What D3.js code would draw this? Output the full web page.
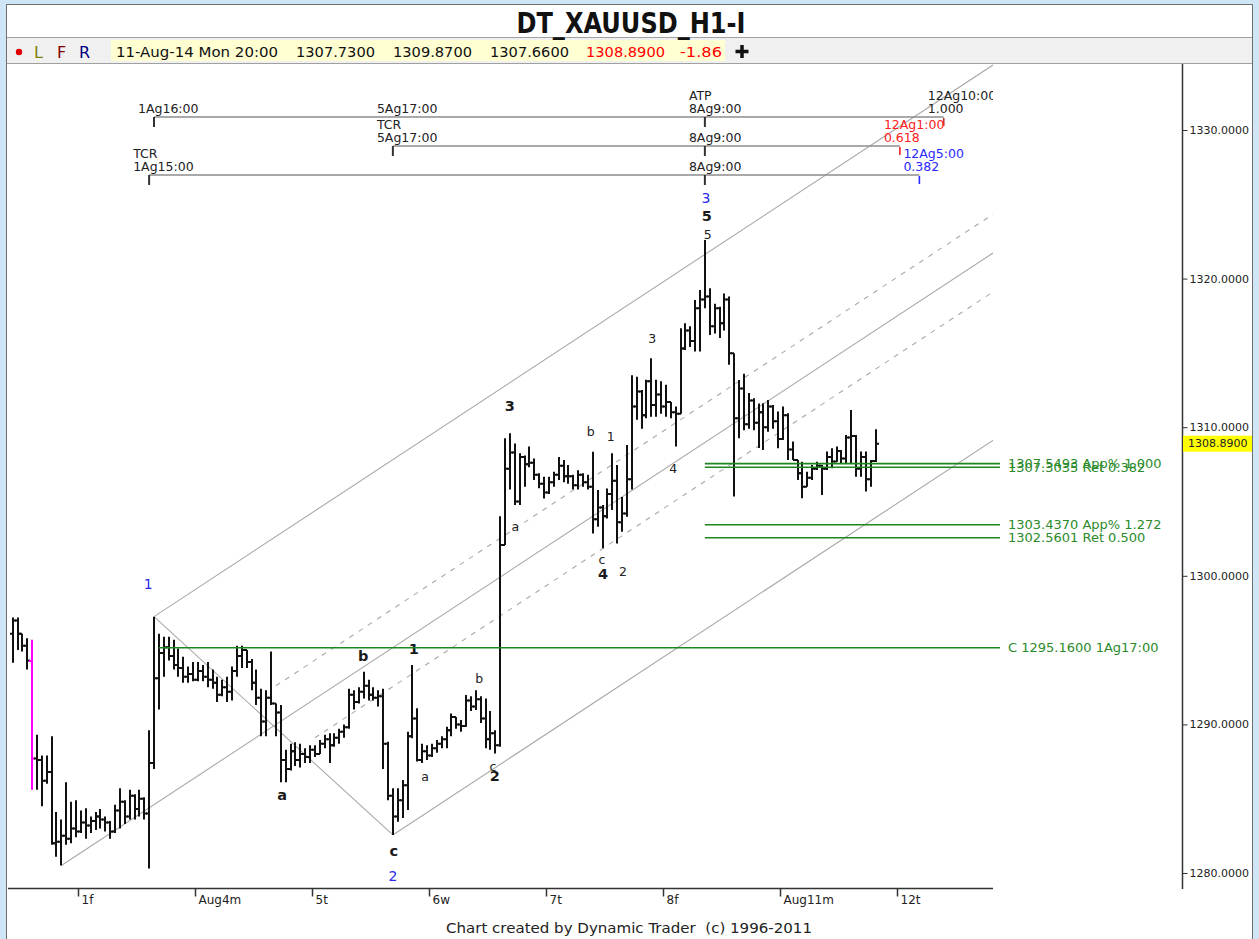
<!DOCTYPE html>
<html>
<head>
<meta charset="utf-8">
<script src="https://cdn.jsdelivr.net/npm/d3@7"></script>
<style>
body { margin: 0; background: #cfe6f6; }
svg { display: block; }
text { font-family: "DejaVu Sans", Verdana, sans-serif; }
</style>
</head>
<body>
<svg id="chart" width="1259" height="939"></svg>
<script>
// hourly bars, first bar = Jul 31 11:00, hour index 0 = Aug 1 00:00 (trading days only)
var startHour = -13;
var magentaHour = -9;

var opens = [
 1296.1,1297.0,1296.1,1295.3,1294.26,1287.7,1287.6,1286.2,1286.8,1282.0,
 1282.1,1282.5,1282.3,1283.0,1282.8,1283.4,1283.2,1283.5,1283.8,1283.6,
 1283.4,1282.8,1284.2,1284.8,1283.8,1285.2,1284.3,1285.0,1284.0,1287.4,
 1293.1,1294.8,1295.2,1294.6,1294.0,1293.8,1293.2,1293.4,1293.0,1293.6,
 1293.2,1293.0,1292.8,1292.0,1292.5,1292.2,1293.6,1294.6,1295.0,1294.2,
 1292.8,1291.8,1290.2,1291.8,1291.4,1290.8,1287.6,1287.0,1288.2,1287.6,
 1288.0,1287.8,1288.3,1288.0,1288.7,1289.0,1288.6,1289.1,1289.5,1289.8,
 1292.0,1291.5,1292.2,1292.6,1292.0,1291.8,1291.9,1288.7,1285.2,1283.8,
 1284.9,1285.9,1289.2,1290.4,1287.6,1288.2,1287.9,1288.4,1288.7,1289.0,
 1289.6,1290.5,1290.0,1289.9,1291.6,1291.2,1291.7,1290.4,1289.0,1289.4,
 1288.6,1302.07,1307.2,1308.3,1305.0,1308.0,1307.5,1307.6,1306.8,1306.2,
 1305.6,1306.3,1306.8,1307.4,1306.7,1306.7,1306.1,1306.8,1306.3,1306.0,
 1303.8,1304.6,1304.0,1305.5,1306.4,1303.6,1304.2,1306.5,1311.4,1312.4,
 1310.8,1313.1,1311.5,1312.2,1311.4,1311.7,1311.0,1310.9,1315.3,1316.5,
 1315.8,1318.0,1318.6,1318.8,1316.8,1318.0,1317.0,1318.6,1314.97,1310.6,
 1312.6,1310.2,1311.8,1310.3,1311.0,1310.0,1311.4,1310.4,1309.2,1310.8,
 1308.5,1307.8,1306.9,1306.0,1306.6,1307.2,1307.4,1307.2,1308.0,1307.7,
 1308.4,1307.9,1309.3,1309.4,1307.2,1308.0,1306.5,1307.73
];
var highs = [
 1297.2,1297.2,1296.1,1295.8,1295.7,1289.3,1287.9,1287.9,1289.2,1284.1,
 1283.6,1286.1,1284.8,1284.9,1284.2,1284.35,1283.8,1284.1,1284.3,1283.8,
 1283.5,1284.6,1285.7,1284.9,1285.6,1285.3,1285.6,1285.1,1289.6,1297.25,
 1296.1,1295.9,1295.9,1295.7,1295.1,1294.55,1293.9,1294.2,1294.2,1294.0,
 1294.2,1293.7,1293.2,1293.0,1293.2,1293.9,1295.3,1295.3,1295.0,1294.4,
 1293.7,1292.4,1292.3,1294.9,1291.4,1291.3,1288.3,1288.7,1288.8,1288.7,
 1288.4,1288.6,1288.6,1288.95,1289.3,1289.4,1289.4,1289.7,1290.0,1292.4,
 1292.3,1292.5,1293.55,1293.0,1292.5,1292.3,1292.4,1288.84,1285.7,1285.7,
 1286.26,1289.5,1294.0,1291.08,1288.7,1288.6,1288.7,1288.95,1289.2,1289.85,
 1290.74,1290.5,1290.3,1291.98,1291.9,1292.3,1291.9,1291.75,1290.9,1289.6,
 1304.0,1309.25,1309.6,1308.9,1308.24,1308.1,1308.7,1307.9,1306.9,1306.67,
 1306.67,1307.0,1308.0,1307.8,1307.45,1306.8,1307.1,1306.9,1306.8,1308.35,
 1305.77,1304.76,1305.88,1308.24,1307.45,1305.3,1308.8,1313.5,1313.4,1312.5,
 1313.2,1314.64,1313.2,1313.1,1312.85,1311.7,1311.4,1316.66,1317.0,1316.8,
 1318.56,1319.24,1322.6,1319.35,1318.3,1318.1,1319.0,1318.8,1314.97,1313.18,
 1313.6,1312.3,1311.95,1311.6,1311.61,1311.83,1311.5,1311.05,1311.4,1310.94,
 1309.03,1307.8,1307.68,1307.0,1307.46,1307.68,1307.46,1308.36,1308.58,1308.7,
 1308.47,1309.48,1311.16,1309.48,1308.36,1308.36,1307.8,1309.87
];
var lows = [
 1294.15,1295.0,1294.9,1293.7,1285.6,1285.6,1284.5,1286.0,1281.9,1281.1,
 1280.5,1281.9,1282.0,1282.4,1282.7,1282.3,1282.7,1282.9,1283.0,1282.8,
 1282.3,1282.7,1283.0,1283.3,1283.6,1283.6,1283.8,1283.6,1280.3,1287.0,
 1291.0,1293.2,1294.3,1293.7,1293.2,1292.8,1292.8,1292.9,1292.9,1292.9,
 1292.5,1292.4,1291.5,1291.9,1291.5,1291.6,1293.2,1293.8,1293.8,1292.3,
 1291.3,1289.2,1289.2,1291.3,1289.2,1286.1,1286.1,1286.9,1287.2,1287.1,
 1287.4,1287.4,1287.8,1288.0,1288.4,1287.4,1288.5,1288.7,1289.1,1289.7,
 1291.0,1291.4,1291.75,1291.6,1291.6,1291.2,1287.0,1284.9,1282.56,1283.45,
 1283.7,1284.24,1289.06,1287.5,1287.4,1287.6,1287.8,1288.1,1288.4,1288.4,
 1289.2,1289.7,1289.5,1289.85,1290.9,1290.97,1290.1,1288.39,1288.3,1288.05,
 1288.5,1302.07,1305.8,1304.76,1304.76,1306.0,1307.3,1306.44,1305.9,1305.2,
 1305.5,1306.0,1306.44,1306.3,1306.2,1305.8,1305.8,1306.0,1305.8,1302.85,
 1303.3,1301.85,1303.86,1304.43,1302.18,1302.97,1303.98,1305.8,1310.5,1309.9,
 1310.6,1310.7,1310.7,1310.9,1310.7,1310.6,1308.7,1310.9,1315.2,1315.4,
 1315.1,1315.1,1318.0,1316.2,1316.3,1316.0,1316.5,1314.2,1305.33,1309.25,
 1309.8,1309.9,1309.8,1308.6,1308.47,1309.7,1309.9,1308.58,1309.14,1307.8,
 1307.8,1306.45,1305.22,1306.0,1306.45,1307.12,1305.44,1307.12,1307.24,1307.68,
 1307.57,1307.57,1307.57,1306.67,1306.67,1305.67,1306.0,1307.66
];
var closes = [
 1297.0,1296.1,1295.3,1294.3,1287.7,1287.6,1286.2,1286.8,1282.0,1282.1,
 1282.5,1282.3,1283.0,1282.8,1283.4,1283.2,1283.5,1283.8,1283.6,1283.4,
 1282.8,1284.2,1284.8,1283.8,1285.2,1284.3,1285.0,1284.0,1287.4,1293.1,
 1294.8,1295.2,1294.6,1294.0,1293.8,1293.2,1293.4,1293.0,1293.6,1293.2,
 1293.0,1292.8,1292.0,1292.5,1292.2,1293.6,1294.6,1295.0,1294.2,1292.8,
 1291.8,1290.2,1291.8,1291.4,1290.8,1287.6,1287.0,1288.2,1287.6,1288.0,
 1287.8,1288.3,1288.0,1288.7,1289.0,1288.6,1289.1,1289.5,1289.8,1292.0,
 1291.5,1292.2,1292.6,1292.0,1291.8,1291.9,1288.7,1285.2,1283.8,1284.9,
 1285.9,1289.2,1290.4,1287.6,1288.2,1287.9,1288.4,1288.7,1289.0,1289.6,
 1290.5,1290.0,1289.9,1291.6,1291.2,1291.7,1290.4,1289.0,1289.4,1288.6,
 1302.07,1307.2,1308.3,1305.0,1308.0,1307.5,1307.6,1306.8,1306.2,1305.6,
 1306.3,1306.8,1307.4,1306.7,1306.7,1306.1,1306.8,1306.3,1306.0,1303.8,
 1304.6,1304.0,1305.5,1306.4,1303.6,1304.2,1306.5,1311.4,1312.4,1310.8,
 1313.1,1311.5,1312.2,1311.4,1311.7,1311.0,1310.9,1315.3,1316.5,1315.8,
 1318.0,1318.6,1318.8,1316.8,1318.0,1317.0,1318.6,1314.97,1310.6,1312.6,
 1310.2,1311.8,1310.3,1311.0,1310.0,1311.4,1310.4,1309.2,1310.8,1308.5,
 1307.8,1306.9,1306.0,1306.6,1307.2,1307.4,1307.2,1308.0,1307.7,1308.4,
 1307.9,1309.3,1309.4,1307.2,1308.0,1306.5,1307.73,1308.89
];

// day ticks on the time axis
var dayHours = [0, 24, 48, 72, 96, 120, 144, 168];
var dayLabels = ["1f", "Aug4m", "5t", "6w", "7t", "8f", "Aug11m", "12t"];
var priceTicks = [1280, 1290, 1300, 1310, 1320, 1330];

// parallel channel: start point (hour, price), common slope in price per hour
var channelSlope = 0.2157;
var solidStarts = [[16, 1297.25], [-3, 1280.5], [65, 1282.56]];
var dashedStarts = [[41, 1292.6], [49, 1289.1]];
var pivotLine = [[16, 1297.25], [65, 1282.56]];

// horizontal levels
var levelPrices = [1295.16, 1307.5493, 1307.3035, 1303.437, 1302.5601];
var levelStart = [17, 129, 129, 129, 129];
var levelLabels = ["C 1295.1600 1Ag17:00", "1307.5493 App% 1.000", "1307.3035 Ret 0.382",
                   "1303.4370 App% 1.272", "1302.5601 Ret 0.500"];

// time projection rows at the top
var projRows = [
  {y: 117, from: 16, to: 178, ticks: [16, 129], endColor: "#c03030"},
  {y: 146, from: 65, to: 169, ticks: [65, 129], endColor: "#ff2020"},
  {y: 175, from: 15, to: 173, ticks: [15, 129], endColor: "#2a2aff"}
];
// [hour, row, line (0 upper, 1 lower), text, color]
var projLabels = [
  [16, 0, 1, "1Ag16:00", "#222"], [65, 0, 1, "5Ag17:00", "#222"],
  [129, 0, 0, "ATP", "#222"], [129, 0, 1, "8Ag9:00", "#222"],
  [178, 0, 0, "12Ag10:00", "#222"], [178, 0, 1, "1.000", "#222"],
  [65, 1, 0, "TCR", "#222"], [65, 1, 1, "5Ag17:00", "#222"],
  [129, 1, 1, "8Ag9:00", "#222"],
  [169, 1, 0, "12Ag1:00", "#ff2020"], [169, 1, 1, "0.618", "#ff2020"],
  [15, 2, 0, "TCR", "#222"], [15, 2, 1, "1Ag15:00", "#222"],
  [129, 2, 1, "8Ag9:00", "#222"],
  [173, 2, 0, "12Ag5:00", "#2a2aff"], [173, 2, 1, "0.382", "#2a2aff"]
];

// wave labels [hour, price, text, style]
var waveLabels = [
  [14.8, 1299.45, "1", "blue"], [65.0, 1279.8, "2", "blue"], [129.2, 1325.4, "3", "blue"],
  [129.4, 1324.2, "5", "bold"], [129.6, 1323.0, "5", "plain"],
  [89.0, 1311.4, "3", "bold"], [105.6, 1309.7, "b", "plain"], [109.7, 1309.4, "1", "plain"],
  [118.2, 1316.0, "3", "plain"], [122.5, 1307.2, "4", "plain"], [90.1, 1303.3, "a", "plain"],
  [107.9, 1301.1, "c", "plain"], [108.1, 1300.1, "4", "bold"], [112.2, 1300.3, "2", "plain"],
  [58.9, 1294.6, "b", "bold"], [69.3, 1295.1, "1", "bold"], [82.7, 1293.1, "b", "plain"],
  [42.3, 1285.25, "a", "bold"], [65.2, 1281.5, "c", "bold"], [71.6, 1286.5, "a", "plain"],
  [85.5, 1287.2, "c", "plain"], [85.9, 1286.5, "2", "bold"]
];

var infoDate = "11-Aug-14 Mon 20:00";
var infoValues = ["1307.7300", "1309.8700", "1307.6600"];
var infoClose = "1308.8900";
var infoChange = "-1.86";
var lastPrice = 1308.89;

var W = 1259, H = 939;
var plot = {left: 8, right: 993, top: 64, bottom: 888};

var x = d3.scaleLinear().domain([0, 168]).range([76, 895]);
var y = d3.scaleLinear().domain([1280, 1330]).range([873, 130]);

var svg = d3.select("#chart");

// frame
svg.append("rect").attr("width", W).attr("height", H).attr("fill", "#cfe6f6");
svg.append("rect").attr("x", 6.5).attr("y", 4.5).attr("width", 1246).attr("height", 940)
  .attr("fill", "#fff").attr("stroke", "#707070");
svg.append("rect").attr("x", 7).attr("y", 38).attr("width", 1245).attr("height", 25)
  .attr("fill", "#f0f0f0");
svg.append("line").attr("x1", 7).attr("x2", 1252).attr("y1", 37.5).attr("y2", 37.5).attr("stroke", "#a0a0a0");
svg.append("line").attr("x1", 7).attr("x2", 1252).attr("y1", 63.5).attr("y2", 63.5).attr("stroke", "#a0a0a0");

svg.append("text").attr("x", 631).attr("y", 33).attr("text-anchor", "middle")
  .attr("font-size", 28).attr("font-weight", "bold").attr("fill", "#111")
  .attr("textLength", 229).attr("lengthAdjust", "spacingAndGlyphs")
  .text("DT_XAUUSD_H1-I");

// toolbar
svg.append("circle").attr("cx", 19).attr("cy", 52).attr("r", 3.2).attr("fill", "#e00000");
[["L", 34, "#808000"], ["F", 57, "#800000"], ["R", 79, "#000080"]].forEach(function(d) {
  svg.append("text").attr("x", d[1]).attr("y", 57.5).attr("font-size", 16).attr("fill", d[2]).text(d[0]);
});
svg.append("rect").attr("x", 111).attr("y", 40).attr("width", 614).attr("height", 21).attr("fill", "#ffffd2");
var info = [[116, infoDate, 162, "#111"], [296, infoValues[0], 79, "#111"], [393, infoValues[1], 79, "#111"],
            [490, infoValues[2], 79, "#111"], [586, infoClose, 79, "#ff0000"], [680, infoChange, 42, "#ff0000"]];
info.forEach(function(d) {
  svg.append("text").attr("x", d[0]).attr("y", 56.5).attr("font-size", 14).attr("fill", d[3])
    .attr("textLength", d[2]).attr("lengthAdjust", "spacingAndGlyphs").text(d[1]);
});
svg.append("path").attr("d", "M742,45V58M735.5,51.5H748.5").attr("stroke", "#111").attr("stroke-width", 3.5);

// clip for the plot area
svg.append("clipPath").attr("id", "plotclip").append("rect")
  .attr("x", plot.left).attr("y", plot.top)
  .attr("width", plot.right - plot.left).attr("height", plot.bottom - plot.top);

var g = svg.append("g").attr("clip-path", "url(#plotclip)");

// channel lines
var hEnd = 200;
function chanLine(s) {
  return [[s[0], s[1]], [hEnd, s[1] + channelSlope * (hEnd - s[0])]];
}
var lineGen = d3.line().x(function(d) { return x(d[0]); }).y(function(d) { return y(d[1]); });
solidStarts.forEach(function(s) {
  g.append("path").attr("d", lineGen(chanLine(s))).attr("fill", "none")
    .attr("stroke", "#a9a9a9").attr("stroke-width", 1.1);
});
dashedStarts.forEach(function(s) {
  g.append("path").attr("d", lineGen(chanLine(s))).attr("fill", "none")
    .attr("stroke", "#a9a9a9").attr("stroke-width", 1.1).attr("stroke-dasharray", "5,6");
});
g.append("path").attr("d", lineGen(pivotLine)).attr("fill", "none")
  .attr("stroke", "#a9a9a9").attr("stroke-width", 1.1);

// projection rows
projRows.forEach(function(r) {
  g.append("line").attr("x1", x(r.from)).attr("x2", x(r.to)).attr("y1", r.y).attr("y2", r.y)
    .attr("stroke", "#8c8c8c").attr("stroke-width", 1.5);
  r.ticks.forEach(function(t) {
    g.append("line").attr("x1", x(t)).attr("x2", x(t)).attr("y1", r.y).attr("y2", r.y + 10)
      .attr("stroke", "#333").attr("stroke-width", 2);
  });
  g.append("line").attr("x1", x(r.to)).attr("x2", x(r.to)).attr("y1", r.y + 1).attr("y2", r.y + 9)
    .attr("stroke", r.endColor).attr("stroke-width", 1.6);
});
projLabels.forEach(function(d) {
  var row = projRows[d[1]];
  g.append("text").attr("x", x(d[0]) - 16).attr("y", row.y - (d[2] === 0 ? 22 : 9))
    .attr("dominant-baseline", "central").attr("font-size", 12.5).attr("fill", d[4]).text(d[3]);
});

// green level lines
levelPrices.forEach(function(p, i) {
  svg.append("line").attr("x1", x(levelStart[i])).attr("x2", 1000)
    .attr("y1", y(p)).attr("y2", y(p)).attr("stroke", "#1f851f").attr("stroke-width", 1.6);
  svg.append("text").attr("x", 1008).attr("y", y(p)).attr("dominant-baseline", "central")
    .attr("font-size", 13).attr("fill", "#2b8a2b").text(levelLabels[i]);
});

// OHLC bars
var bars = opens.map(function(o, i) {
  return {h: startHour + i, o: o, hi: highs[i], lo: lows[i], c: closes[i]};
});
g.selectAll("path.bar").data(bars).enter().append("path")
  .attr("class", "bar")
  .attr("d", function(d) {
    var bx = Math.round(x(d.h));
    return "M" + bx + "," + y(d.hi) + "V" + y(d.lo) +
           "M" + (bx - 3) + "," + y(d.o) + "H" + bx +
           "M" + bx + "," + y(d.c) + "H" + (bx + 3);
  })
  .attr("fill", "none")
  .attr("stroke", function(d) { return d.h === magentaHour ? "#ff00ff" : "#111"; })
  .attr("stroke-width", 2);

// wave labels
var waveStyle = {
  blue: {size: 14, weight: "normal", color: "#2a2ae8"},
  bold: {size: 14.5, weight: "bold", color: "#1a1a1a"},
  plain: {size: 12.5, weight: "normal", color: "#222"}
};
waveLabels.forEach(function(d) {
  var s = waveStyle[d[3]];
  g.append("text").attr("x", x(d[0])).attr("y", y(d[1]))
    .attr("text-anchor", "middle").attr("dominant-baseline", "central")
    .attr("font-size", s.size).attr("font-weight", s.weight).attr("fill", s.color).text(d[2]);
});

// time axis
svg.append("line").attr("x1", plot.left).attr("x2", plot.right).attr("y1", plot.bottom + 0.5).attr("y2", plot.bottom + 0.5)
  .attr("stroke", "#333").attr("stroke-width", 1.5);
var xAxis = svg.append("g").attr("transform", "translate(2," + (plot.bottom + 0.5) + ")")
  .call(d3.axisBottom(x).tickValues(dayHours).tickSize(8).tickFormat(function(d, i) { return dayLabels[i]; }));
xAxis.select(".domain").remove();
xAxis.selectAll(".tick line").attr("stroke", "#333").attr("stroke-width", 1.5);
xAxis.selectAll(".tick text").attr("text-anchor", "start").attr("dx", 3).attr("dy", 4)
  .attr("font-family", "DejaVu Sans").attr("font-size", 12).attr("fill", "#222");

// price axis
svg.append("line").attr("x1", 1182.5).attr("x2", 1182.5).attr("y1", plot.top).attr("y2", plot.bottom + 1)
  .attr("stroke", "#333").attr("stroke-width", 1.5);
var yAxis = svg.append("g").attr("transform", "translate(1182.5,0)")
  .call(d3.axisRight(y).tickValues(priceTicks).tickSize(5).tickPadding(2).tickFormat(d3.format(".4f")));
yAxis.select(".domain").remove();
yAxis.selectAll(".tick line").attr("stroke", "#333");
yAxis.selectAll(".tick text").attr("font-family", "DejaVu Sans").attr("font-size", 11).attr("fill", "#222");

svg.append("rect").attr("x", 1183).attr("y", y(lastPrice) - 8).attr("width", 69).attr("height", 16).attr("fill", "#ffff00");
svg.append("text").attr("x", 1188).attr("y", y(lastPrice)).attr("dominant-baseline", "central")
  .attr("font-size", 11).attr("fill", "#222").text(d3.format(".4f")(lastPrice));

// right border over the clipped labels
svg.append("line").attr("x1", 1252.5).attr("x2", 1252.5).attr("y1", 4).attr("y2", H).attr("stroke", "#707070");

svg.append("text").attr("x", 629).attr("y", 933).attr("text-anchor", "middle")
  .style("white-space", "pre")
  .attr("font-size", 14.5).attr("fill", "#222").attr("textLength", 366).attr("lengthAdjust", "spacingAndGlyphs")
  .text("Chart created by Dynamic Trader  (c) 1996-2011");
</script>
</body>
</html>
